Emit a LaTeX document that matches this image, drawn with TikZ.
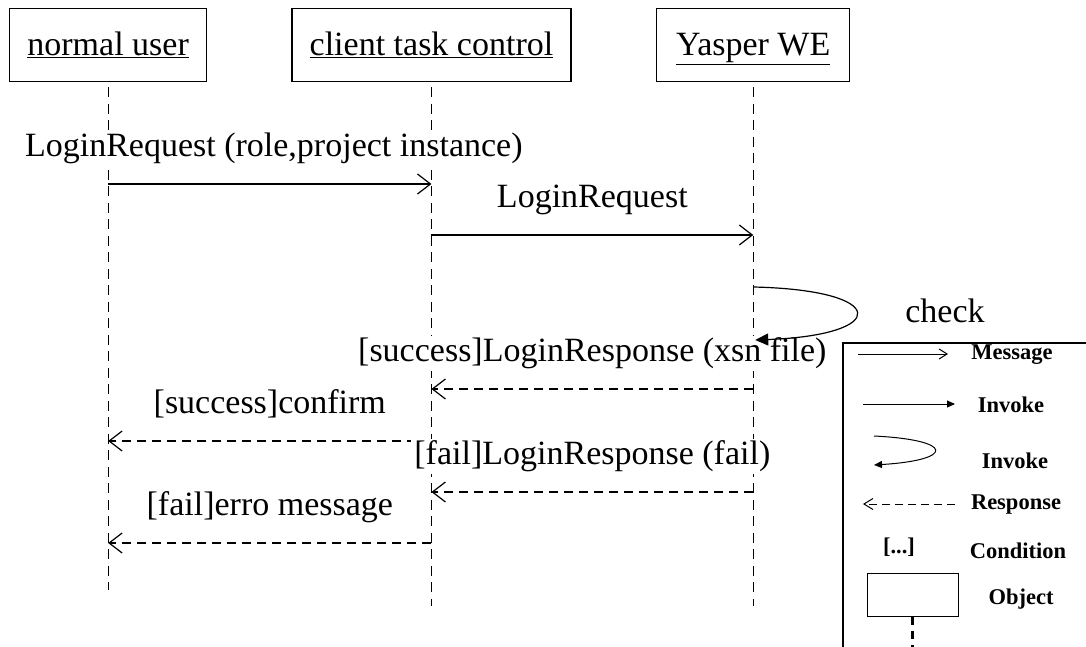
\documentclass[tikz,border=0pt]{standalone}
\usepackage{fontspec}
\setmainfont{Liberation Serif}
\usetikzlibrary{arrows.meta,positioning}

\begin{document}
\begin{tikzpicture}[x=1pt, y=-1pt,
    every node/.style={font=\fontsize{34}{40}\selectfont},
    obj/.style={rectangle, draw, line width=1.3pt, minimum height=73pt, text height=30pt, text depth=9pt},
    lifeline/.style={line width=1.2pt, dash pattern=on 10pt off 6.5pt},
    msg/.style={-{Straight Barb[length=13pt, width=20pt]}, line width=1.2pt},
    resp/.style={msg, dash pattern=on 9pt off 6pt},
    invoke/.style={-{Triangle[length=13pt, width=12pt]}, line width=1.2pt},
    msglabel/.style={midway, anchor=base, yshift=27.5pt, fill=white, inner xsep=3pt, inner ysep=2pt},
    legtext/.style={font=\fontsize{22.5}{27}\selectfont\bfseries, inner sep=0pt}
  ]
  \path[use as bounding box, clip] (0,0) rectangle (1086,647);

  % objects
  \node[obj, minimum width=197pt, anchor=north west] (user) at (9,8) {\underline{normal user}};
  \node[obj, minimum width=279pt, right=84pt of user] (client) {\underline{client task control}};
  \node[obj, minimum width=193pt, right=84.5pt of client] (we) {\underline{Yasper WE}};

  % lifelines
  \draw[lifeline] ([yshift=-5pt]user.south) -- ++(0,503);
  \draw[lifeline] ([yshift=-5pt]client.south) -- ++(0,519);
  \draw[lifeline] ([yshift=-5pt]we.south) -- ++(0,519);

  % message rows
  \coordinate (m1) at (0,184);
  \coordinate (m2) at (0,235);
  \coordinate (s1) at (0,287);
  \coordinate (s2) at (0,340);
  \coordinate (m3) at (0,389);
  \coordinate (m4) at (0,441);
  \coordinate (m5) at (0,492);
  \coordinate (m6) at (0,543);

  \draw[msg] (user |- m1) -- node[msglabel, xshift=4pt] (l1) {LoginRequest (role,project instance)} (client |- m1);
  \draw[msg] (client |- m2) -- node[msglabel] (l2) {LoginRequest} (we |- m2);
  \draw[resp] (we |- m3) -- node[msglabel] (l3) {[success]LoginResponse (xsn file)} (client |- m3);
  \draw[invoke] (we |- s1) .. controls (890,290) and (890,335) .. ([xshift=2pt]we |- s2);
  \node (check) at (945,311) {check};
  \draw[resp] (client |- m4) -- node[msglabel] (l4) {[success]confirm} (user |- m4);
  \draw[resp] (we |- m5) -- node[msglabel] (l5) {[fail]LoginResponse (fail)} (client |- m5);
  \draw[resp] (client |- m6) -- node[msglabel] (l6) {[fail]erro message} (user |- m6);

  % legend
  \draw[line width=1.5pt] (843,343) rectangle (1100,660);
  \coordinate (a1) at (858,354);
  \coordinate (b1) at (948,354);
  \draw[line width=1pt, -{Straight Barb[length=8pt, width=10pt]}] (a1) -- (b1);
  \node[legtext] (lmsg) at (1012,355) {Message};
  \coordinate (a2) at (863,404);
  \coordinate (b2) at (955,404);
  \draw[line width=1pt, -{Triangle[length=8pt, width=7pt]}] (a2) -- (b2);
  \node[legtext] (linv) at (1011,405) {Invoke};
  \coordinate (a3) at (874,436);
  \coordinate (b3) at (874,465);
  \draw[line width=1pt, -{Triangle[length=8pt, width=7pt]}] (a3) .. controls (955,440) and (955,460) .. (b3);
  \node[legtext] (lself) at (1015,461) {Invoke};
  \coordinate (a4) at (955,504);
  \coordinate (b4) at (863,504);
  \draw[line width=1pt, dash pattern=on 8pt off 5pt, -{Straight Barb[length=9pt, width=11pt]}] (a4) -- (b4);
  \node[legtext] (lresp) at (1016,505) {Response};
  \node[legtext] (lcond) at (899,547) {[...]};
  \node[legtext] (lcondt) at (1018,551) {Condition};
  \node[draw, line width=1pt, minimum width=91pt, minimum height=43pt, inner sep=0pt] (lobj) at (912.5,594.5) {};
  \draw[line width=2.5pt, dash pattern=on 8pt off 6pt] (lobj.south) -- ++(0,40);
  \node[legtext] (lobjt) at (1021,599) {Object};
\end{tikzpicture}
\end{document}
